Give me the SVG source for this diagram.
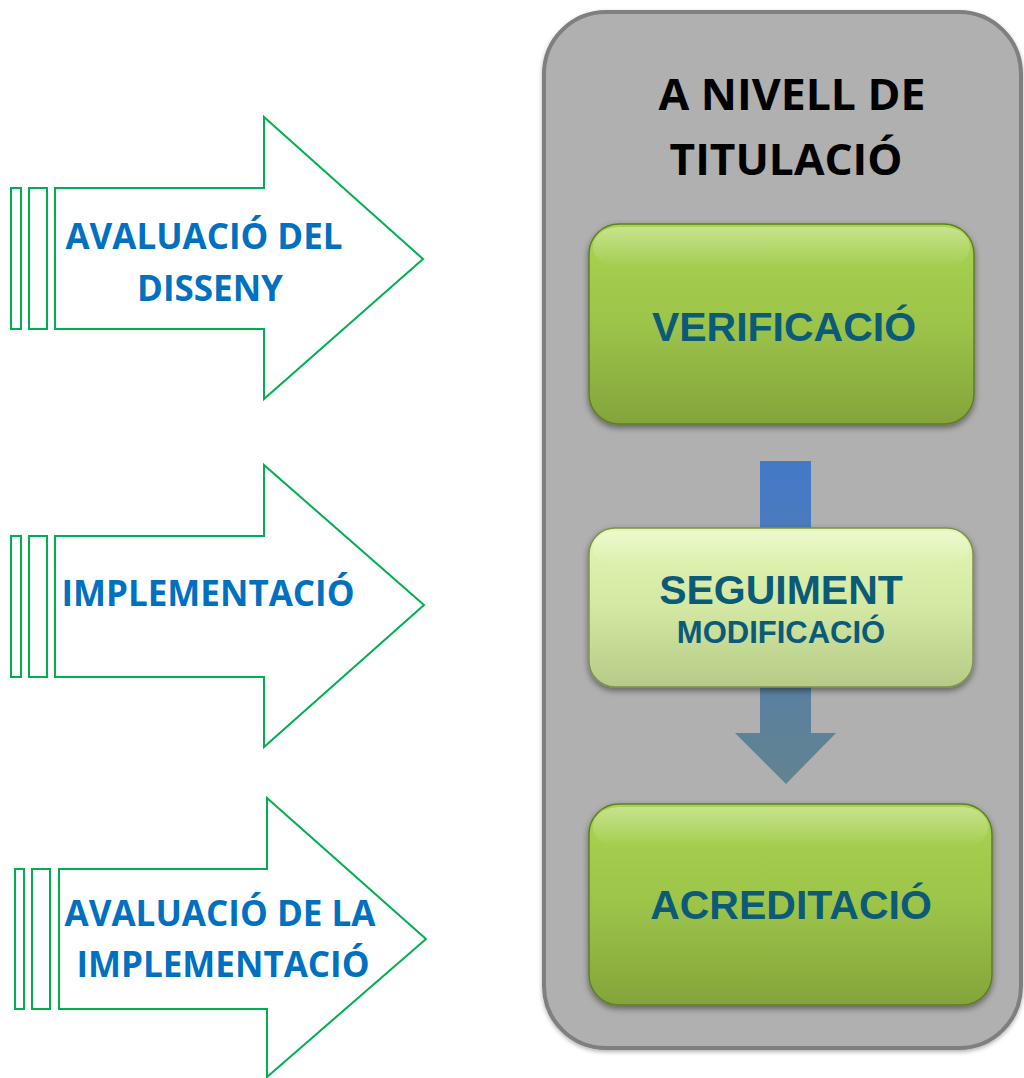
<svg xmlns="http://www.w3.org/2000/svg" width="1024" height="1078" viewBox="0 0 1024 1078">
<defs>
<style>
.arr{fill:#ffffff;stroke:#00b050;stroke-width:2}
.lt{font-family:"Open Sans","Liberation Sans",sans-serif;font-weight:bold;fill:#0070c0;text-anchor:middle}
.bt{font-family:"Liberation Sans",Arial,sans-serif;font-weight:bold;fill:#0b5a78;text-anchor:middle}
.tt{font-family:"Open Sans","Liberation Sans",sans-serif;font-weight:bold;fill:#000000;text-anchor:middle}
.gbox{fill:url(#gGreen);stroke:#5f7d26;stroke-width:1.5;filter:url(#sh)}
.lbox{fill:url(#gLight);stroke:#7e9050;stroke-width:1.5;filter:url(#sh)}
</style>
<linearGradient id="gGreen" x1="0" y1="0" x2="0" y2="1">
<stop offset="0" stop-color="#a9d451"/>
<stop offset="0.5" stop-color="#9cc44a"/>
<stop offset="1" stop-color="#84a43a"/>
</linearGradient>
<linearGradient id="gLight" x1="0" y1="0" x2="0" y2="1">
<stop offset="0" stop-color="#e3f7b4"/>
<stop offset="0.5" stop-color="#d3e8a2"/>
<stop offset="1" stop-color="#b5cb86"/>
</linearGradient>
<linearGradient id="gBlue" x1="0" y1="0" x2="0" y2="1">
<stop offset="0" stop-color="#4479c9"/>
<stop offset="1" stop-color="#62838f"/>
</linearGradient>
<linearGradient id="gGloss" x1="0" y1="0" x2="0" y2="1">
<stop offset="0" stop-color="#ffffff" stop-opacity="0.35"/>
<stop offset="1" stop-color="#ffffff" stop-opacity="0"/>
</linearGradient>
<filter id="sh" x="-10%" y="-10%" width="120%" height="130%">
<feDropShadow dx="0" dy="3" stdDeviation="3" flood-color="#000000" flood-opacity="0.45"/>
</filter>
<filter id="csh" x="-5%" y="-5%" width="110%" height="110%">
<feDropShadow dx="0" dy="2" stdDeviation="2" flood-color="#000000" flood-opacity="0.3"/>
</filter>
</defs>

<g id="container">
<rect x="544" y="12" width="477" height="1036" rx="62" ry="62" fill="#b0b0b0" stroke="#7f7f7f" stroke-width="4" filter="url(#csh)"/>
<text class="tt" x="792" y="110" font-size="43" textLength="267" lengthAdjust="spacingAndGlyphs">A NIVELL DE</text>
<text class="tt" x="786" y="175" font-size="43" textLength="233" lengthAdjust="spacingAndGlyphs">TITULACIÓ</text>
</g>

<g id="connectors">
<path d="M760,461 H811 V733 H836 L786,784 L735,733 H760 Z" fill="url(#gBlue)"/>
</g>

<g id="arrow1">
<rect class="arr" x="11" y="188" width="10" height="141"/>
<rect class="arr" x="29" y="188" width="18" height="141"/>
<path class="arr" d="M55,188 H264 V117 L423,259 L264,399 V329 H55 Z"/>
<text class="lt" x="204" y="249" font-size="35" textLength="277" lengthAdjust="spacingAndGlyphs">AVALUACIÓ DEL</text>
<text class="lt" x="210" y="301" font-size="35">DISSENY</text>
</g>

<g id="arrow2">
<rect class="arr" x="11" y="536" width="10" height="141"/>
<rect class="arr" x="29" y="536" width="18" height="141"/>
<path class="arr" d="M55,536 H264 V465 L424,605 L264,747 V677 H55 Z"/>
<text class="lt" x="208" y="606" font-size="35">IMPLEMENTACIÓ</text>
</g>

<g id="arrow3">
<rect class="arr" x="15" y="869" width="9" height="140"/>
<rect class="arr" x="32" y="869" width="18" height="140"/>
<path class="arr" d="M59,869 H267 V798 L426,939 L267,1077 V1009 H59 Z"/>
<text class="lt" x="220" y="926" font-size="35" textLength="311" lengthAdjust="spacingAndGlyphs">AVALUACIÓ DE LA</text>
<text class="lt" x="223" y="977" font-size="35">IMPLEMENTACIÓ</text>
</g>

<g id="verificacio">
<rect class="gbox" x="589" y="224" width="385" height="200" rx="30" ry="30"/>
<rect x="593" y="227" width="377" height="40" rx="26" ry="26" fill="url(#gGloss)"/>
<text class="bt" x="784" y="341" font-size="41">VERIFICACIÓ</text>
</g>

<g id="seguiment">
<rect class="lbox" x="589" y="528" width="384" height="159" rx="26" ry="26"/>
<rect x="593" y="531" width="376" height="34" rx="22" ry="22" fill="url(#gGloss)"/>
<text class="bt" x="781" y="604" font-size="41">SEGUIMENT</text>
<text class="bt" x="781" y="643" font-size="31">MODIFICACIÓ</text>
</g>

<g id="acreditacio">
<rect class="gbox" x="589" y="804" width="403" height="201" rx="30" ry="30"/>
<rect x="593" y="807" width="395" height="40" rx="26" ry="26" fill="url(#gGloss)"/>
<text class="bt" x="791" y="919" font-size="41">ACREDITACIÓ</text>
</g>
</svg>
